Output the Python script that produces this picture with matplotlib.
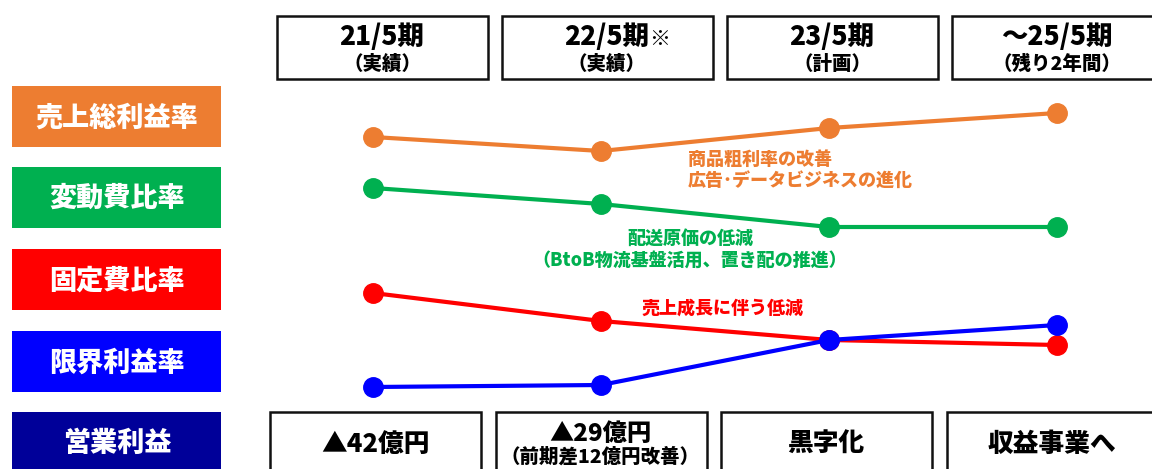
import matplotlib.pyplot as plt
from matplotlib.patches import Rectangle

plt.rcParams["font.family"] = ["Noto Sans CJK JP", "DejaVu Sans"]
plt.rcParams["font.weight"] = "heavy"

# periods (columns)
periods = ["21/5期", "22/5期", "23/5期", "～25/5期"]
period_marks = ["", "※", "", ""]
period_notes = ["（実績）", "（実績）", "（計画）", "（残り2年間）"]

# row labels and colours
row_labels = ["売上総利益率", "変動費比率", "固定費比率", "限界利益率", "営業利益"]
row_colors = ["#ED7D31", "#00B050", "#FF0000", "#0000FF", "#000099"]

# relative level of each ratio (higher = further up)
gross_margin = [33.2, 31.8, 34.1, 35.6]
variable_cost = [28.1, 26.5, 24.2, 24.2]
fixed_cost = [17.6, 14.8, 12.9, 12.4]
marginal_profit = [8.2, 8.4, 12.9, 14.4]

# operating profit row
op_profit = ["▲42億円", "▲29億円", "黒字化", "収益事業へ"]
op_profit_notes = ["", "（前期差12億円改善）", "", ""]

notes_gross = ["商品粗利率の改善", "広告･データビジネスの進化"]
notes_variable = ["配送原価の低減", "（BtoB物流基盤活用、置き配の推進）"]
notes_fixed = ["売上成長に伴う低減"]

W, H = 1152, 469
fig = plt.figure(figsize=(W / 100, H / 100), dpi=100)

# layout layer in pixel units
bg = fig.add_axes([0, 0, 1, 1])
bg.set_xlim(0, W)
bg.set_ylim(H, 0)
bg.axis("off")

# left colour labels
label_tops = [86, 167, 249, 331, 412]
for top, lab, col in zip(label_tops, row_labels, row_colors):
    bg.add_patch(Rectangle((12, top), 209, 61, facecolor=col, edgecolor="none"))
    bg.text(117, top + 31, lab, color="white", fontsize=19.5, fontweight="heavy",
            ha="center", va="center")

# period header boxes
for i, (p, m, n) in enumerate(zip(periods, period_marks, period_notes)):
    x0 = 277 + i * 225
    bg.add_patch(Rectangle((x0, 16), 211, 63, facecolor="white",
                           edgecolor="#111111", linewidth=1.8))
    t = bg.text(x0 + 105, 37, p, fontsize=19, fontweight="heavy", ha="center", va="center")
    if m:
        bg.annotate(m, xy=(1, 0.5), xycoords=t, xytext=(0, -1.5), textcoords="offset points",
                    fontsize=15, fontweight="heavy", ha="left", va="center")
    bg.text(x0 + 105, 64, n, fontsize=14, fontweight="heavy", ha="center", va="center")

# operating profit boxes (run off the bottom edge)
for i, (v, n) in enumerate(zip(op_profit, op_profit_notes)):
    x0 = 270 + i * 225.5
    bg.add_patch(Rectangle((x0, 412), 211, 70, facecolor="white",
                           edgecolor="#111111", linewidth=1.8, clip_on=False))
    if n:
        bg.text(x0 + 105, 434, v, fontsize=17.5, fontweight="heavy", ha="center", va="center")
        bg.text(x0 + 105, 457, n, fontsize=14, fontweight="heavy", ha="center", va="center")
    else:
        bg.text(x0 + 105, 444, v, fontsize=18.5, fontweight="heavy", ha="center", va="center")

# ratio lines
ax = fig.add_axes([0, 0, 1, 1])
ax.set_xlim(-373 / 228, (W - 373) / 228)
ax.set_ylim(0, H / 10)
ax.axis("off")
ax.patch.set_alpha(0)

xs = range(len(periods))
for vals, col in zip([gross_margin, variable_cost, fixed_cost, marginal_profit],
                     row_colors[:4]):
    ax.plot(xs, vals, color=col, linewidth=3, marker="o", markersize=14,
            solid_capstyle="round")

# explanatory notes
for k, t in enumerate(notes_gross):
    bg.text(688, 159 + k * 21, t, color=row_colors[0], fontsize=13,
            fontweight="heavy", ha="left", va="center")
for k, t in enumerate(notes_variable):
    bg.text(690, 238 + k * 22, t, color=row_colors[1], fontsize=13,
            fontweight="heavy", ha="center", va="center")
bg.text(723, 308, notes_fixed[0], color=row_colors[2], fontsize=13,
        fontweight="heavy", ha="center", va="center")

fig.savefig("out.png", dpi=100)
